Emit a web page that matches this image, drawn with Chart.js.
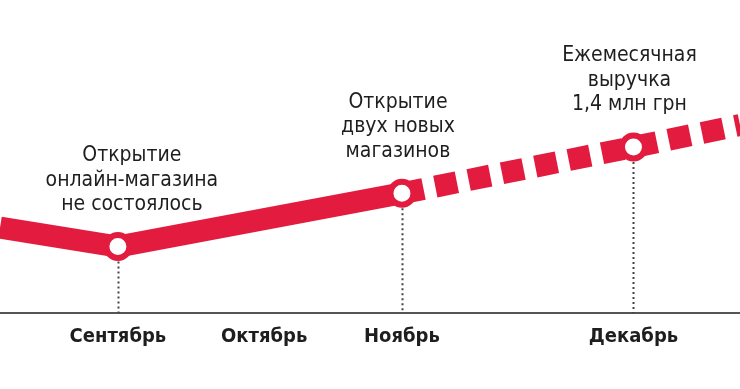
<!DOCTYPE html>
<html>
<head>
<meta charset="utf-8">
<script src="https://cdn.jsdelivr.net/npm/chart.js@4"></script>
<style>
  html, body { margin: 0; padding: 0; background: #fff; }
  #wrap { width: 740px; height: 389px; }
</style>
</head>
<body>
<div id="wrap"><canvas id="revenueChart"></canvas></div>
<script>
// month labels and their places on the time axis (months from September)
const monthLabels = ['Сентябрь', 'Октябрь', 'Ноябрь', 'Декабрь'];
const monthPos = [0, 1.03, 2, 3.63];

// revenue line, mln grn (first and last points run off the edges)
const lineX = [-0.83, 0, 2, 3.63, 4.38];
const lineY = [0.72, 0.56, 1.01, 1.40, 1.585];

// captions over the marked points
const noteIndex = [1, 2, 3];
const noteText = [
    ['Открытие', 'онлайн-магазина', 'не состоялось'],
    ['Открытие', 'двух новых', 'магазинов'],
    ['Ежемесячная', 'выручка', '1,4 млн грн']
];

const red = '#e31b3f';
const fontFamily = "'DejaVu Sans Condensed', 'Roboto', sans-serif";

const notesPlugin = {
    id: 'notes',
    beforeDatasetsDraw(chart) {
        const ctx = chart.ctx;
        const xs = chart.scales.x, ys = chart.scales.y;
        ctx.save();
        ctx.strokeStyle = '#444';
        ctx.lineWidth = 2;
        ctx.setLineDash([2, 3]);
        noteIndex.forEach(i => {
            const px = Math.round(xs.getPixelForValue(lineX[i])) + 0.5;
            const py = ys.getPixelForValue(lineY[i]);
            ctx.beginPath();
            ctx.moveTo(px, py);
            ctx.lineTo(px, chart.chartArea.bottom);
            ctx.stroke();
        });
        ctx.restore();
    },
    afterDatasetsDraw(chart) {
        const ctx = chart.ctx;
        const xs = chart.scales.x, ys = chart.scales.y;
        const shift = [14, -4, -4];
        ctx.save();
        ctx.fillStyle = '#1e1e1e';
        ctx.font = '21px ' + fontFamily;
        ctx.textAlign = 'center';
        ctx.textBaseline = 'middle';
        noteIndex.forEach((i, k) => {
            const px = xs.getPixelForValue(lineX[i]) + shift[k];
            const py = ys.getPixelForValue(lineY[i]);
            const lines = noteText[k];
            lines.forEach((t, j) => {
                ctx.fillText(t, px, py - 42 - (lines.length - 1 - j) * 24.5);
            });
        });
        ctx.restore();
    }
};

new Chart('revenueChart', {
    type: 'line',
    data: {
        datasets: [{
            data: lineX.map((x, i) => ({ x: x, y: lineY[i] })),
            borderColor: red,
            borderWidth: 22,
            borderCapStyle: 'butt',
            tension: 0,
            pointRadius: lineX.map((x, i) => noteIndex.includes(i) ? 11.5 : 0),
            pointBorderWidth: 6,
            pointBorderColor: red,
            pointBackgroundColor: '#fff',
            pointHoverRadius: 11.5,
            segment: {
                borderDash: ctx => ctx.p0DataIndex >= 2 ? [22, 12] : undefined
            }
        }]
    },
    options: {
        responsive: true,
        maintainAspectRatio: false,
        animation: false,
        events: [],
        layout: { padding: { top: 0, left: 0, right: 0, bottom: 36 } },
        plugins: { legend: { display: false }, tooltip: { enabled: false } },
        scales: {
            x: {
                type: 'linear',
                min: -0.83,
                max: 4.38,
                afterBuildTicks: axis => {
                    axis.ticks = monthPos.map(v => ({ value: v }));
                },
                ticks: {
                    autoSkip: false,
                    maxRotation: 0,
                    padding: 4,
                    color: '#1e1e1e',
                    font: { family: fontFamily, size: 20, weight: 'bold' },
                    callback: function (value) {
                        const i = monthPos.indexOf(value);
                        return i >= 0 ? monthLabels[i] : '';
                    }
                },
                grid: { display: false },
                border: { display: true, color: '#555', width: 2 }
            },
            y: {
                display: false,
                min: 0,
                max: 2.64
            }
        }
    },
    plugins: [notesPlugin]
});
</script>
</body>
</html>
